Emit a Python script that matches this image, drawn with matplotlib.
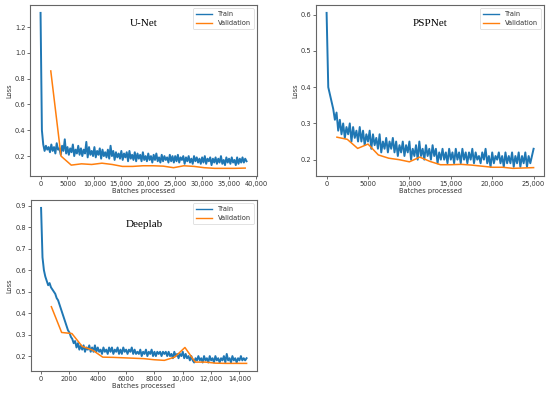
import numpy as np
import matplotlib
matplotlib.use('Agg')
from matplotlib import pyplot as plt

# logging interval of the train loss and epoch length (in batches) per model
unet_train_step = 250
unet_epoch = 1900
psp_train_step = 200
psp_epoch = 1250
deeplab_train_step = 100
deeplab_epoch = 725

unet_train = [1.31, 0.40, 0.29, 0.24, 0.28, 0.25, 0.27, 0.23, 0.29, 0.24,
              0.27, 0.22, 0.30, 0.25, 0.26, 0.21, 0.28, 0.24, 0.33, 0.22,
              0.27, 0.21, 0.26, 0.23, 0.29, 0.20, 0.25, 0.22, 0.28, 0.21,
              0.26, 0.20, 0.25, 0.22, 0.31, 0.19, 0.27, 0.21, 0.24, 0.20,
              0.27, 0.19, 0.24, 0.21, 0.26, 0.18, 0.25, 0.20, 0.23, 0.19,
              0.25, 0.18, 0.28, 0.20, 0.24, 0.17, 0.23, 0.19, 0.22, 0.18,
              0.24, 0.17, 0.22, 0.19, 0.23, 0.16, 0.24, 0.18, 0.21, 0.17,
              0.23, 0.16, 0.22, 0.18, 0.21, 0.16, 0.23, 0.17, 0.20, 0.16,
              0.22, 0.17, 0.20, 0.15, 0.21, 0.17, 0.22, 0.16, 0.19, 0.15,
              0.21, 0.16, 0.20, 0.17, 0.19, 0.15, 0.21, 0.16, 0.20, 0.15,
              0.20, 0.16, 0.21, 0.15, 0.19, 0.17, 0.20, 0.14, 0.19, 0.16,
              0.20, 0.15, 0.18, 0.14, 0.20, 0.16, 0.19, 0.15, 0.18, 0.14,
              0.19, 0.15, 0.20, 0.14, 0.18, 0.16, 0.19, 0.13, 0.18, 0.15,
              0.19, 0.14, 0.18, 0.15, 0.20, 0.14, 0.17, 0.13, 0.19, 0.15,
              0.18, 0.14, 0.19, 0.15, 0.17, 0.13, 0.19, 0.14, 0.18, 0.15,
              0.19, 0.15, 0.18, 0.16]
unet_val = [0.86, 0.20, 0.13, 0.14, 0.135, 0.145, 0.135, 0.12, 0.12, 0.125,
            0.125, 0.122, 0.11, 0.125, 0.12, 0.11, 0.105, 0.105, 0.105, 0.107]

psp_train = [0.605, 0.40, 0.38, 0.36, 0.34, 0.31, 0.33, 0.28, 0.31, 0.27,
             0.30, 0.26, 0.29, 0.27, 0.30, 0.25, 0.29, 0.26, 0.28, 0.25,
             0.29, 0.25, 0.28, 0.24, 0.27, 0.25, 0.28, 0.23, 0.27, 0.24,
             0.26, 0.23, 0.27, 0.22, 0.25, 0.23, 0.26, 0.22, 0.25, 0.23,
             0.26, 0.22, 0.25, 0.21, 0.24, 0.22, 0.25, 0.21, 0.24, 0.22,
             0.25, 0.20, 0.23, 0.21, 0.24, 0.20, 0.25, 0.21, 0.23, 0.20,
             0.24, 0.21, 0.23, 0.20, 0.24, 0.21, 0.23, 0.19, 0.22, 0.20,
             0.23, 0.20, 0.22, 0.19, 0.23, 0.20, 0.22, 0.19, 0.23, 0.20,
             0.22, 0.19, 0.23, 0.20, 0.22, 0.19, 0.22, 0.20, 0.23, 0.19,
             0.22, 0.20, 0.21, 0.19, 0.22, 0.20, 0.23, 0.19, 0.21, 0.18,
             0.22, 0.19, 0.21, 0.20, 0.22, 0.19, 0.21, 0.18, 0.22, 0.19,
             0.21, 0.19, 0.22, 0.18, 0.21, 0.19, 0.22, 0.18, 0.21, 0.19,
             0.22, 0.18, 0.21, 0.19, 0.21, 0.23]
psp_val = [0.262, 0.256, 0.231, 0.243, 0.213, 0.204, 0.200, 0.194, 0.207, 0.195,
           0.186, 0.186, 0.187, 0.185, 0.182, 0.179, 0.179, 0.176, 0.177, 0.178]

deeplab_train = [0.89, 0.66, 0.60, 0.57, 0.55, 0.53, 0.54, 0.52, 0.51, 0.50,
                 0.49, 0.47, 0.46, 0.44, 0.42, 0.40, 0.38, 0.36, 0.34, 0.32,
                 0.31, 0.29, 0.28, 0.26, 0.27, 0.24, 0.26, 0.23, 0.25, 0.23,
                 0.25, 0.22, 0.24, 0.23, 0.25, 0.22, 0.24, 0.22, 0.25, 0.22,
                 0.24, 0.22, 0.23, 0.21, 0.24, 0.22, 0.23, 0.21, 0.24, 0.22,
                 0.24, 0.21, 0.23, 0.22, 0.24, 0.21, 0.23, 0.21, 0.24, 0.22,
                 0.23, 0.21, 0.23, 0.22, 0.24, 0.21, 0.23, 0.21, 0.22, 0.21,
                 0.23, 0.20, 0.22, 0.21, 0.23, 0.20, 0.22, 0.21, 0.23, 0.20,
                 0.22, 0.20, 0.22, 0.21, 0.22, 0.20, 0.22, 0.21, 0.22, 0.20,
                 0.22, 0.20, 0.21, 0.19, 0.22, 0.20, 0.21, 0.19, 0.21, 0.20,
                 0.22, 0.19, 0.21, 0.19, 0.20, 0.18, 0.20, 0.18, 0.17, 0.19,
                 0.18, 0.20, 0.18, 0.19, 0.17, 0.20, 0.18, 0.19, 0.17, 0.20,
                 0.18, 0.19, 0.17, 0.20, 0.18, 0.19, 0.17, 0.19, 0.18, 0.20,
                 0.17, 0.21, 0.18, 0.19, 0.17, 0.20, 0.18, 0.19, 0.17, 0.19,
                 0.18, 0.20, 0.18, 0.19, 0.18, 0.19]
deeplab_val = [0.43, 0.31, 0.305, 0.245, 0.228, 0.195, 0.194, 0.192, 0.19, 0.188,
               0.183, 0.18, 0.195, 0.24, 0.172, 0.172, 0.167, 0.166, 0.166, 0.166]

models = {'U-Net': (unet_train, unet_train_step, unet_val, unet_epoch),
          'PSPNet': (psp_train, psp_train_step, psp_val, psp_epoch),
          'Deeplab': (deeplab_train, deeplab_train_step, deeplab_val, deeplab_epoch)}

# axes boxes [left, bottom, width, height] in figure fractions
boxes = {'U-Net': [0.055, 0.553, 0.412, 0.434],
         'PSPNet': [0.575, 0.553, 0.414, 0.434],
         'Deeplab': [0.056, 0.058, 0.411, 0.434]}
title_y = {'U-Net': 0.89, 'PSPNet': 0.89, 'Deeplab': 0.86}
xticks = {'U-Net': np.arange(0, 40001, 5000),
          'PSPNet': np.arange(0, 25001, 5000),
          'Deeplab': np.arange(0, 14001, 2000)}

fs = 4.8
fig = plt.figure(figsize=(5.5, 3.94), dpi=100)

for name, (train, step, val, epoch) in models.items():
    ax = fig.add_axes(boxes[name])
    train_x = np.arange(len(train)) * step
    val_x = np.arange(1, len(val) + 1) * epoch
    ax.plot(train_x, train, color='#1f77b4', lw=1.4, label='Train')
    ax.plot(val_x, val, color='#ff7f0e', lw=1.1, label='Validation')
    ax.set_xticks(xticks[name])
    ax.xaxis.set_major_formatter(matplotlib.ticker.FuncFormatter(
        lambda v, p: f'{int(v):,}' if v >= 10000 else f'{int(v)}'))
    ax.tick_params(labelsize=fs, length=2, width=0.6, pad=1.5,
                   colors='#555555', labelcolor='#333333')
    for sp in ax.spines.values():
        sp.set_color('#666666')
        sp.set_linewidth(0.8)
    ax.set_xlabel('Batches processed', fontsize=fs, color='#333333', labelpad=1)
    ax.set_ylabel('Loss', fontsize=fs, color='#333333', labelpad=2)
    ax.text(0.5, title_y[name], name, transform=ax.transAxes, ha='center',
            va='center', fontsize=8, family='Liberation Serif')
    leg = ax.legend(loc='upper right', fontsize=fs, handlelength=2.5,
                    borderaxespad=0.5, labelcolor='#333333')
    leg.get_frame().set_linewidth(0.5)
    for line in leg.get_lines():
        line.set_linewidth(1.0)

fig.savefig('out.png', dpi=100)
